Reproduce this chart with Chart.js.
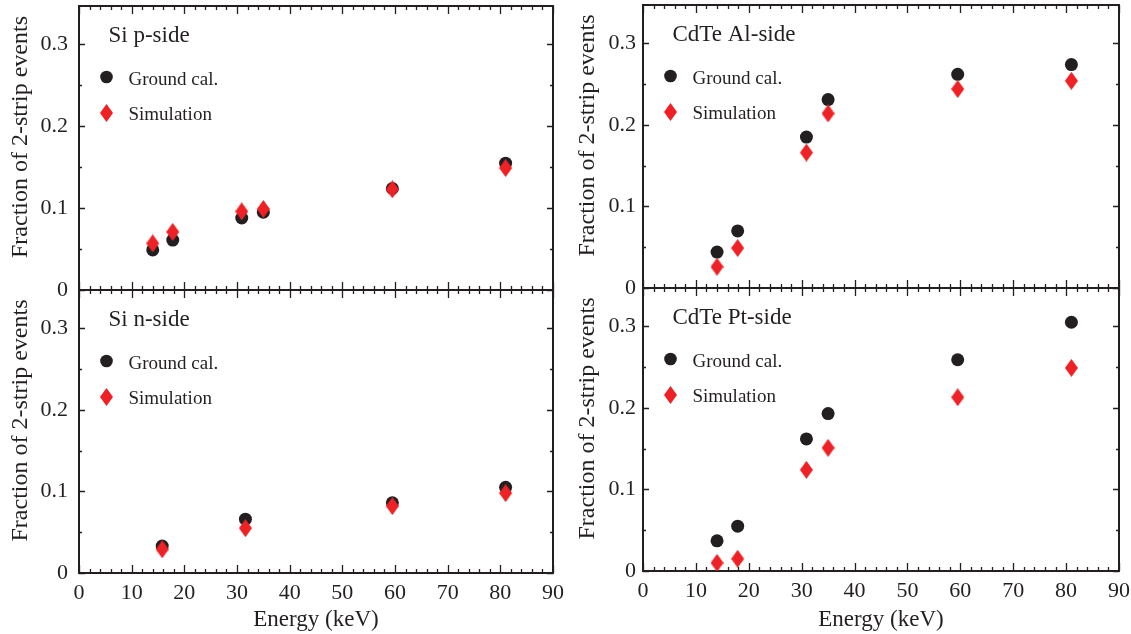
<!DOCTYPE html>
<html>
<head>
<meta charset="utf-8">
<script src="https://cdn.jsdelivr.net/npm/chart.js@4.4.1/dist/chart.umd.min.js"></script>
<style>
    html, body { margin: 0; padding: 0; background: #fff; }
    #page { position: relative; width: 1131px; height: 634px; overflow: hidden; background: #fff; }
    #page canvas { position: absolute; }
</style>
</head>
<body>
<div id="page">
    <canvas id="c1" width="570" height="300" style="left:0px;top:0px"></canvas>
    <canvas id="c2" width="570" height="354" style="left:0px;top:280px"></canvas>
    <canvas id="c3" width="561" height="300" style="left:570px;top:0px"></canvas>
    <canvas id="c4" width="561" height="354" style="left:570px;top:280px"></canvas>
</div>
<script>
// Axis ticks and labels
const energyTicks = [0, 10, 20, 30, 40, 50, 60, 70, 80, 90];
const fractionTicks = [0, 0.1, 0.2, 0.3];
const fractionTickLabels = ["0", "0.1", "0.2", "0.3"];

// Panel names and series names
const panelTitles = ["Si p-side", "Si n-side", "CdTe Al-side", "CdTe Pt-side"];
const seriesNames = ["Ground cal.", "Simulation"];

// Si p-side
const siPEnergy = [14.0, 17.8, 30.9, 35.0, 59.5, 81.0];
const siPGround = [0.049, 0.061, 0.088, 0.095, 0.124, 0.155];
const siPSim = [0.057, 0.071, 0.096, 0.099, 0.123, 0.149];

// Si n-side
const siNEnergy = [15.8, 31.6, 59.5, 81.0];
const siNGround = [0.033, 0.066, 0.086, 0.105];
const siNSim = [0.029, 0.055, 0.082, 0.098];

// CdTe, both sides share the same lines
const cdteEnergy = [14.0, 17.9, 30.9, 35.0, 59.5, 81.0];
const alGround = [0.044, 0.070, 0.185, 0.231, 0.262, 0.274];
const alSim = [0.026, 0.049, 0.166, 0.214, 0.244, 0.254];
const ptGround = [0.037, 0.055, 0.162, 0.193, 0.259, 0.305];
const ptSim = [0.010, 0.015, 0.124, 0.151, 0.213, 0.249];

const ink = "#231f20";
const red = "#ec2227";
const serif = "'Liberation Serif', 'Times New Roman', serif";

// tall red diamond used as point style
function makeDiamond(w, h, color) {
    const c = document.createElement("canvas");
    c.width = w;
    c.height = h;
    const g = c.getContext("2d");
    g.fillStyle = color;
    g.beginPath();
    g.moveTo(w / 2, 0);
    g.lineTo(w, h / 2);
    g.lineTo(w / 2, h);
    g.lineTo(0, h / 2);
    g.closePath();
    g.fill();
    return c;
}
const diamond = makeDiamond(13, 18, red);

// where each panel sits on the page (canvas box and plot box)
const panels = [
    { id: "c1", left: 0, top: 0, w: 570, h: 300, area: { l: 79, t: 6, r: 553, b: 290 }, bottomAxis: false, yPad: 11, yTitleX: 21,
      title: panelTitles[0], x: siPEnergy, ground: siPGround, sim: siPSim },
    { id: "c2", left: 0, top: 280, w: 570, h: 354, area: { l: 79, t: 290, r: 553, b: 573 }, bottomAxis: true, yPad: 11, yTitleX: 21,
      title: panelTitles[1], x: siNEnergy, ground: siNGround, sim: siNSim },
    { id: "c3", left: 570, top: 0, w: 561, h: 300, area: { l: 643, t: 5, r: 1119, b: 288 }, bottomAxis: false, yPad: 7, yTitleX: 588,
      title: panelTitles[2], x: cdteEnergy, ground: alGround, sim: alSim },
    { id: "c4", left: 570, top: 280, w: 561, h: 354, area: { l: 643, t: 288, r: 1119, b: 571 }, bottomAxis: true, yPad: 7, yTitleX: 588,
      title: panelTitles[3], x: cdteEnergy, ground: ptGround, sim: ptSim }
];

// frame + inward ticks on all four sides
const framePlugin = {
    id: "frame",
    beforeDatasetsDraw(chart) {
        const { ctx, chartArea: a, scales: { x, y } } = chart;
        ctx.save();
        ctx.strokeStyle = ink;
        ctx.lineWidth = 1.3;
        ctx.beginPath();
        for (let i = 0; i <= 45; i++) {
            const px = Math.round(x.getPixelForValue(i * 2)) + 0.5;
            const len = i % 5 === 0 ? 8 : 4;
            ctx.moveTo(px, a.bottom); ctx.lineTo(px, a.bottom - len);
            ctx.moveTo(px, a.top); ctx.lineTo(px, a.top + len);
        }
        for (let i = 0; i <= 6; i++) {
            const py = Math.round(y.getPixelForValue(i * 0.05)) + 0.5;
            const len = i % 2 === 0 ? 6 : 3;
            ctx.moveTo(a.left, py); ctx.lineTo(a.left + len, py);
            ctx.moveTo(a.right, py); ctx.lineTo(a.right - len, py);
        }
        ctx.stroke();
        ctx.lineWidth = 2;
        ctx.strokeRect(a.left, a.top, a.right - a.left, a.bottom - a.top);
        ctx.restore();
    },
    afterDraw(chart) {
        const p = chart.config.options.panel;
        const { ctx, chartArea: a } = chart;
        ctx.save();
        ctx.fillStyle = ink;
        ctx.textAlign = "left";
        ctx.textBaseline = "alphabetic";
        // panel name
        ctx.font = "23px " + serif;
        ctx.fillText(p.title, a.left + 29.5, a.top + 35.5);
        // legend
        ctx.font = "19px " + serif;
        ctx.beginPath();
        ctx.arc(a.left + 27.5, a.top + 71, 6.3, 0, Math.PI * 2);
        ctx.fill();
        ctx.fillText(seriesNames[0], a.left + 49.5, a.top + 78.5);
        ctx.drawImage(diamond, a.left + 27.5 - diamond.width / 2, a.top + 107 - diamond.height / 2);
        ctx.fillText(seriesNames[1], a.left + 49.5, a.top + 113.5);
        // y axis title
        ctx.font = "24px " + serif;
        ctx.textAlign = "center";
        ctx.textBaseline = "middle";
        ctx.translate(p.yTitleX - p.left, (a.top + a.bottom) / 2 - 11);
        ctx.rotate(-Math.PI / 2);
        ctx.fillText("Fraction of 2-strip events", 0, 0);
        ctx.restore();
    }
};

function makePanel(p) {
    const ctx = document.getElementById(p.id).getContext("2d");
    const tickFont = { family: serif, size: 22 };

    const ground = {
        label: seriesNames[0],
        data: p.x.map((e, i) => ({ x: e, y: p.ground[i] })),
        pointStyle: "circle",
        pointRadius: 6.5,
        pointBackgroundColor: ink,
        pointBorderWidth: 0,
        showLine: false,
        order: 2
    };
    const sim = {
        label: seriesNames[1],
        data: p.x.map((e, i) => ({ x: e, y: p.sim[i] })),
        pointStyle: diamond,
        pointRadius: 8,
        showLine: false,
        order: 1
    };

    return new Chart(ctx, {
        type: "scatter",
        data: { datasets: [ground, sim] },
        options: {
            panel: p,
            responsive: false,
            animation: false,
            events: [],
            layout: {
                autoPadding: false,
                padding: {
                    left: 0,
                    top: p.area.t - p.top,
                    right: p.left + p.w - p.area.r,
                    bottom: p.bottomAxis ? 0 : p.top + p.h - p.area.b
                }
            },
            plugins: { legend: { display: false }, tooltip: { enabled: false } },
            scales: {
                x: {
                    type: "linear",
                    min: 0,
                    max: 90,
                    display: p.bottomAxis,
                    grid: { display: false, drawTicks: false },
                    border: { display: false },
                    afterBuildTicks: s => { s.ticks = energyTicks.map(v => ({ value: v })); },
                    ticks: { font: tickFont, color: ink, padding: 7, maxRotation: 0, autoSkip: false },
                    title: { display: true, text: "Energy (keV)", font: { family: serif, size: 23 }, color: ink, padding: { top: 0, bottom: 0 } },
                    afterFit: s => {
                        s.height = p.bottomAxis ? p.top + p.h - p.area.b : 0;
                        s.paddingLeft = 0;
                        s.paddingRight = 0;
                    }
                },
                y: {
                    type: "linear",
                    min: 0,
                    max: 0.347,
                    grid: { display: false, drawTicks: false },
                    border: { display: false },
                    afterBuildTicks: s => { s.ticks = fractionTicks.map(v => ({ value: v })); },
                    ticks: {
                        font: tickFont,
                        color: ink,
                        padding: p.yPad,
                        callback: v => fractionTickLabels[fractionTicks.indexOf(v)]
                    },
                    afterFit: s => {
                        s.width = p.area.l - p.left;
                        s.paddingTop = 0;
                        s.paddingBottom = 0;
                    }
                }
            }
        },
        plugins: [framePlugin]
    });
}

panels.forEach(makePanel);
</script>
</body>
</html>
